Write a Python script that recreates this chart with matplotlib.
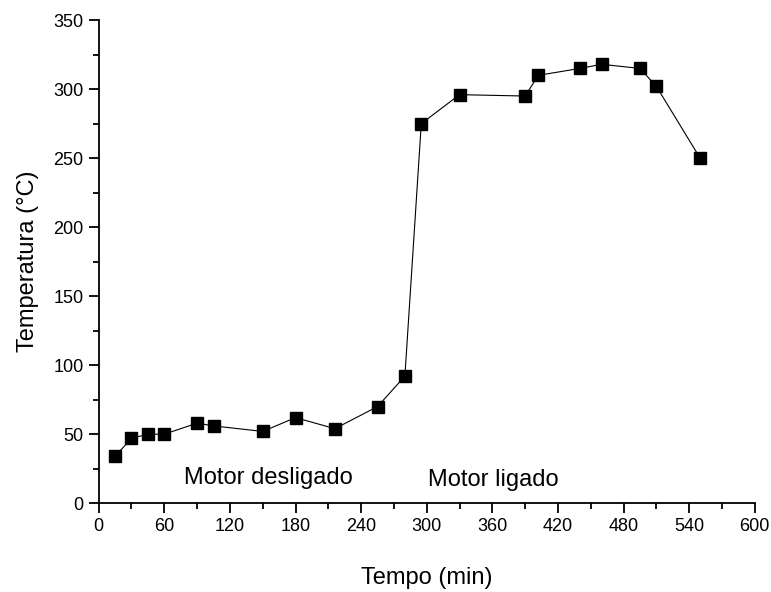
import numpy as np
import matplotlib.pyplot as plt
from matplotlib.ticker import MultipleLocator

plt.rcParams['font.family'] = ['Liberation Sans', 'DejaVu Sans']

# tempo (min) e temperatura (C)
tempo = [15, 30, 45, 60, 90, 105, 150, 180, 216, 255, 280,
         295, 330, 390, 402, 440, 460, 495, 510, 550]
temperatura = [34, 47, 50, 50, 58, 56, 52, 62, 54, 70, 92,
               275, 296, 295, 310, 315, 318, 315, 302, 250]

fig = plt.figure(figsize=(7.71, 5.92), dpi=100)
ax = fig.add_axes([0.128, 0.150, 0.851, 0.816])

ax.plot(tempo, temperatura, '-', color='black', lw=0.8,
        marker='s', ms=8, mfc='black', mec='black')

ax.text(155, 18, 'Motor desligado', fontsize=17, ha='center', va='center')
ax.text(361, 17, 'Motor ligado', fontsize=17, ha='center', va='center')

ax.set_xlim(0, 600)
ax.set_ylim(0, 350)
ax.xaxis.set_major_locator(MultipleLocator(60))
ax.xaxis.set_minor_locator(MultipleLocator(30))
ax.yaxis.set_major_locator(MultipleLocator(50))
ax.yaxis.set_minor_locator(MultipleLocator(25))

ax.spines['top'].set_visible(False)
ax.spines['right'].set_visible(False)
for s in ('left', 'bottom'):
    ax.spines[s].set_linewidth(1.3)
ax.tick_params(which='major', direction='out', length=7, width=1.3,
               labelsize=13, pad=4)
ax.tick_params(which='minor', direction='out', length=4, width=1.3)

ax.set_xlabel('Tempo (min)', fontsize=17, labelpad=23)
ax.set_ylabel('Temperatura (°C)', fontsize=17, labelpad=10)

fig.savefig('out.png', dpi=100)
